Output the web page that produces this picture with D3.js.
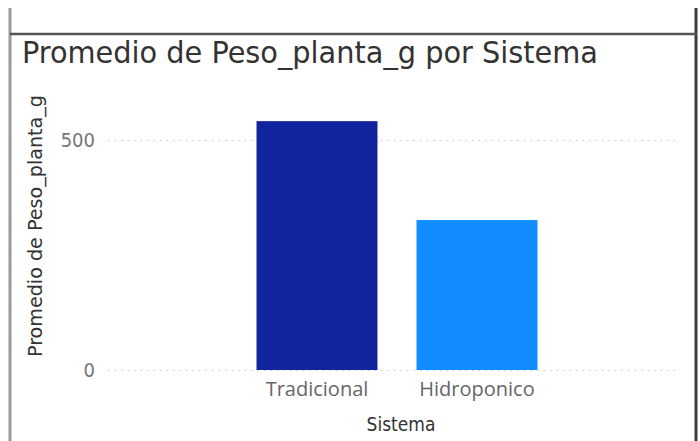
<!DOCTYPE html>
<html>
<head>
<meta charset="utf-8">
<script src="https://cdn.jsdelivr.net/npm/d3@7"></script>
<style>
  body { margin: 0; background: #fff; }
</style>
</head>
<body>
<div id="chart"></div>
<script>
// data
const sistemas = ["Tradicional", "Hidroponico"]
const pesoPromedio = [541, 326]
const barColors = ["#12239E", "#118DFF"]
const yTicks = [0, 500]

const data = sistemas.map((s, i) => ({ sistema: s, peso: pesoPromedio[i], color: barColors[i] }))

const width = 700, height = 441
const svg = d3.select("#chart").append("svg").attr("width", width).attr("height", height)

// card frame
svg.append("line").attr("x1", 10).attr("x2", 10).attr("y1", 8).attr("y2", height)
  .attr("stroke", "#9a9a9a").attr("stroke-width", 3)
svg.append("line").attr("x1", 696).attr("x2", 696).attr("y1", 8).attr("y2", height)
  .attr("stroke", "#3a3a3a").attr("stroke-width", 3)
svg.append("line").attr("x1", 10).attr("x2", 697).attr("y1", 34).attr("y2", 34)
  .attr("stroke", "#555").attr("stroke-width", 2.5)

svg.append("text").attr("x", 22).attr("y", 63)
  .attr("font-family", "DejaVu Sans Condensed").attr("font-size", 31).attr("fill", "#333")
  .attr("textLength", 576).attr("lengthAdjust", "spacingAndGlyphs")
  .text("Promedio de Peso_planta_g por Sistema")

const plot = { left: 108, right: 680, top: 100, bottom: 370 }

const y = d3.scaleLinear().domain([0, 500]).range([plot.bottom, 140])
const x = d3.scaleBand().domain(sistemas).range([237, 557]).paddingInner(0.244).paddingOuter(0.122)

// gridlines + y labels
const yAxis = d3.axisLeft(y).tickValues(yTicks).tickSize(-(plot.right - plot.left)).tickPadding(13)
const yg = svg.append("g").attr("transform", `translate(${plot.left},0)`).call(yAxis)
yg.select(".domain").remove()
yg.selectAll(".tick line").attr("stroke", "#c8c8c8").attr("stroke-dasharray", "1.5,5")
yg.selectAll(".tick text").attr("font-family", "DejaVu Sans Condensed").attr("font-size", 20).attr("fill", "#777")

svg.selectAll("rect.bar").data(data).enter().append("rect").attr("class", "bar")
  .attr("x", d => x(d.sistema))
  .attr("width", x.bandwidth())
  .attr("y", d => y(d.peso))
  .attr("height", d => y(0) - y(d.peso))
  .attr("fill", d => d.color)

const xAxis = d3.axisBottom(x).tickSize(0).tickPadding(12)
const xg = svg.append("g").attr("transform", `translate(0,${plot.bottom})`).call(xAxis)
xg.select(".domain").remove()
xg.selectAll(".tick text").attr("font-family", "Open Sans").attr("font-size", 20).attr("fill", "#666")

svg.append("text").attr("x", 401).attr("y", 431).attr("text-anchor", "middle")
  .attr("font-family", "DejaVu Sans Condensed").attr("font-size", 19).attr("fill", "#333")
  .text("Sistema")

svg.append("text").attr("transform", "translate(42,226) rotate(-90)").attr("text-anchor", "middle")
  .attr("font-family", "DejaVu Sans Condensed").attr("font-size", 20).attr("fill", "#333")
  .attr("textLength", 262).attr("lengthAdjust", "spacingAndGlyphs")
  .text("Promedio de Peso_planta_g")
</script>
</body>
</html>
